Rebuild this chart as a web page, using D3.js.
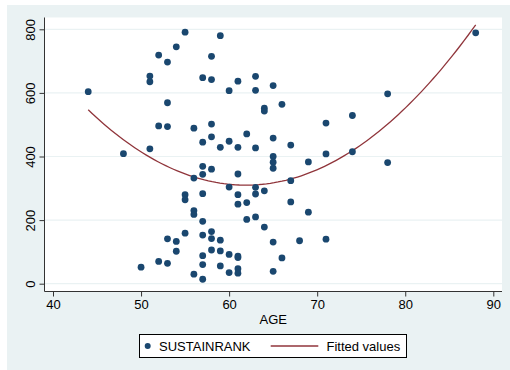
<!DOCTYPE html>
<html><head><meta charset="utf-8">
<script src="https://cdn.jsdelivr.net/npm/d3@7"></script>
<style>body{margin:0;background:#fff}svg{display:block;font-family:Arial,"Liberation Sans",sans-serif}</style>
</head><body>
<script>
// Data: SUSTAINRANK by AGE
const ages = [44,48,50,51,51,51,52,52,52,53,53,53,53,53,54,54,54,55,55,55,55,56,56,56,56,56,
 57,57,57,57,57,57,57,57,57,57,58,58,58,58,58,58,58,58,59,59,59,59,59,60,60,60,60,60,
 61,61,61,61,61,61,61,61,61,62,62,62,63,63,63,63,63,63,64,64,64,64,65,65,65,65,65,65,65,
 66,66,67,67,67,68,69,69,71,71,71,74,74,78,78,88];
const ranks = [604,409,52,653,635,424,719,496,70,697,569,494,141,64,745,133,102,791,280,264,159,489,332,230,218,30,
 648,445,369,344,283,196,153,88,60,14,715,642,502,462,360,164,142,106,780,429,137,103,56,607,448,304,92,35,
 637,429,345,280,250,87,82,47,33,471,255,202,652,608,427,303,282,210,552,543,292,178,623,458,400,382,363,131,39,
 564,81,436,324,257,135,383,225,505,408,140,529,415,597,381,789];
const xTicks = [40,50,60,70,80,90];
const yTicks = [0,200,400,600,800];
const xTitle = "AGE";
const legendLabels = ["SUSTAINRANK","Fitted values"];

const W=510,H=370;
const svg=d3.select("body").append("svg").attr("width",W).attr("height",H);
svg.append("rect").attr("x",7).attr("y",5).attr("width",503).attr("height",365).attr("fill","#EAF2F3");
const L=44.5,R=502,T=17.5,B=291.5;
svg.append("rect").attr("x",L).attr("y",T).attr("width",R-L).attr("height",B-T).attr("fill","#fff");

const x=d3.scaleLinear().domain([40,90]).range([53,493.3]);
const y=d3.scaleLinear().domain([0,800]).range([283.7,29.3]);

// grid
svg.append("g").selectAll("line").data(yTicks).join("line")
 .attr("x1",L).attr("x2",R).attr("y1",d=>y(d)).attr("y2",d=>y(d))
 .attr("stroke","#EAF2F3").attr("stroke-width",1.2);

// axes
const xa=svg.append("g").attr("transform",`translate(0,${B})`)
 .call(d3.axisBottom(x).tickValues(xTicks).tickSize(5).tickPadding(3).tickSizeOuter(0));
xa.select(".domain").attr("d",`M${L},0H${R}`).attr("stroke","#333");
xa.selectAll(".tick line").attr("stroke","#333");
xa.selectAll("text").attr("font-size",13).attr("fill","#000").attr("font-family","Arial,'Liberation Sans',sans-serif");

const ya=svg.append("g").attr("transform",`translate(${L},0)`)
 .call(d3.axisLeft(y).tickValues(yTicks).tickSize(5).tickSizeOuter(0));
ya.select(".domain").attr("d",`M0,${T}V${B}`).attr("stroke","#333");
ya.selectAll(".tick line").attr("stroke","#333");
ya.selectAll(".tick text").attr("font-size",13).attr("fill","#000")
 .attr("font-family","Arial,'Liberation Sans',sans-serif")
 .attr("text-anchor","middle").attr("dy",0).attr("x",0)
 .attr("transform","translate(-9.5,0) rotate(-90)");

svg.append("text").attr("x",(L+R)/2).attr("y",324).attr("text-anchor","middle")
 .attr("font-size",13).text(xTitle);

// quadratic fit (least squares)
const n=ages.length;
let S=[0,0,0,0,0],Ty=[0,0,0];
for(let i=0;i<n;i++){const a=ages[i],v=ranks[i];let p=1;for(let k=0;k<5;k++){S[k]+=p;if(k<3)Ty[k]+=p*v;p*=a;}}
function solve(M,b){const m=M.map((r,i)=>[...r,b[i]]);const k=m.length;
 for(let i=0;i<k;i++){let mx=i;for(let j=i+1;j<k;j++)if(Math.abs(m[j][i])>Math.abs(m[mx][i]))mx=j;[m[i],m[mx]]=[m[mx],m[i]];
  for(let j=0;j<k;j++){if(j===i)continue;const f=m[j][i]/m[i][i];for(let c=i;c<=k;c++)m[j][c]-=f*m[i][c];}}
 return m.map((r,i)=>r[k]/r[i]);}
const co=solve([[S[0],S[1],S[2]],[S[1],S[2],S[3]],[S[2],S[3],S[4]]],Ty);
const xmin=d3.min(ages),xmax=d3.max(ages);
const fit=d3.range(0,101).map(i=>{const a=xmin+(xmax-xmin)*i/100;return [a,co[0]+co[1]*a+co[2]*a*a];});
svg.append("path").datum(fit).attr("fill","none").attr("stroke","#90353B").attr("stroke-width",1.3)
 .attr("d",d3.line().x(d=>x(d[0])).y(d=>y(d[1])));

// points
svg.append("g").selectAll("circle").data(ages.map((a,i)=>[a,ranks[i]])).join("circle")
 .attr("cx",d=>x(d[0])).attr("cy",d=>y(d[1])).attr("r",3.4).attr("fill","#1A476F");

// legend
const lg=svg.append("g");
lg.append("rect").attr("x",139.5).attr("y",334.5).attr("width",267).attr("height",23)
 .attr("fill","#fff").attr("stroke","#000").attr("stroke-width",1);
lg.append("circle").attr("cx",147.7).attr("cy",346).attr("r",3).attr("fill","#1A476F");
lg.append("text").attr("x",159).attr("y",351).attr("font-size",13).text(legendLabels[0]);
lg.append("line").attr("x1",270.7).attr("x2",318.3).attr("y1",346).attr("y2",346)
 .attr("stroke","#90353B").attr("stroke-width",1.3);
lg.append("text").attr("x",326.5).attr("y",351).attr("font-size",13).text(legendLabels[1]);
</script>
</body></html>
